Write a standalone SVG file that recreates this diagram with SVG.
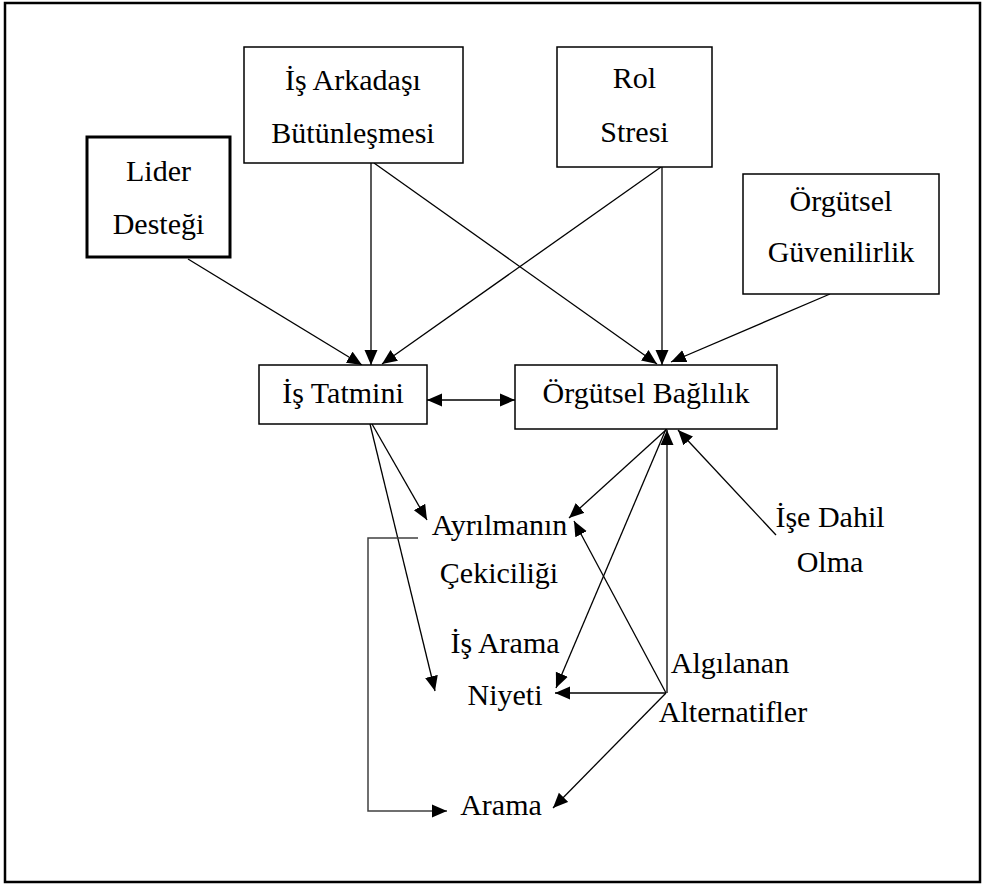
<svg xmlns="http://www.w3.org/2000/svg" width="982" height="885" viewBox="0 0 982 885">
<style>
text{font-family:"Liberation Serif","Times New Roman",serif;font-size:30px;fill:#000;text-anchor:middle}
.box{fill:#fff;stroke:#000;stroke-width:1.5}
.thick{stroke-width:3}
.c{fill:none;stroke:#000;stroke-width:1.3}
.g{fill:none;stroke:#404040;stroke-width:1.5}
</style>
<defs>
<marker id="ah" markerUnits="userSpaceOnUse" markerWidth="16" markerHeight="14" refX="15" refY="6.5" orient="auto-start-reverse" viewBox="0 0 16 13">
<path d="M0,0 L15,6.5 L0,13 z" fill="#000"/>
</marker>
</defs>
<rect x="5" y="3" width="975" height="879" fill="#fff" stroke="#000" stroke-width="2.5"/>

<g id="connectors">
<line class="c" x1="188" y1="259" x2="362" y2="365" marker-end="url(#ah)"/>
<line class="c" x1="371" y1="163" x2="371" y2="365" marker-end="url(#ah)"/>
<line class="c" x1="661" y1="167" x2="382" y2="364" marker-end="url(#ah)"/>
<line class="c" x1="374" y1="163" x2="657" y2="364" marker-end="url(#ah)"/>
<line class="c" x1="662" y1="167" x2="662" y2="365" marker-end="url(#ah)"/>
<line class="c" x1="830" y1="294" x2="671" y2="362" marker-end="url(#ah)"/>
<line class="c" x1="427" y1="400" x2="515" y2="400" marker-start="url(#ah)" marker-end="url(#ah)"/>
<line class="c" x1="372" y1="424" x2="427" y2="520" marker-end="url(#ah)"/>
<line class="c" x1="370" y1="424" x2="435" y2="691" marker-end="url(#ah)"/>
<line class="c" x1="667" y1="429" x2="569" y2="518" marker-end="url(#ah)"/>
<line class="c" x1="666" y1="429" x2="556" y2="688" marker-end="url(#ah)"/>
<line class="c" x1="667" y1="693" x2="667" y2="430" marker-end="url(#ah)"/>
<line class="c" x1="666" y1="693" x2="574" y2="521" marker-end="url(#ah)"/>
<line class="c" x1="776" y1="535" x2="678" y2="430" marker-end="url(#ah)"/>
<line class="c" x1="666" y1="693" x2="555" y2="693" marker-end="url(#ah)"/>
<line class="c" x1="666" y1="693" x2="553" y2="808" marker-end="url(#ah)"/>
<polyline class="g" points="418,538 368,538 368,811 447,811" marker-end="url(#ah)"/>
</g>

<g id="is-arkadasi">
<rect class="box" x="244" y="47" width="219" height="116"/>
<text x="353" y="90">İş Arkadaşı</text>
<text x="353" y="143">Bütünleşmesi</text>
</g>
<g id="rol-stresi">
<rect class="box" x="557" y="47" width="155" height="120"/>
<text x="634.5" y="88">Rol</text>
<text x="634.5" y="142">Stresi</text>
</g>
<g id="lider-destegi">
<rect class="box thick" x="87" y="137" width="143" height="120"/>
<text x="158.5" y="181">Lider</text>
<text x="158.5" y="234">Desteği</text>
</g>
<g id="orgutsel-guvenilirlik">
<rect class="box" x="743" y="174" width="196" height="120"/>
<text x="841" y="211">Örgütsel</text>
<text x="841" y="262">Güvenilirlik</text>
</g>
<g id="is-tatmini">
<rect class="box" x="259" y="365" width="168" height="59"/>
<text x="343" y="403">İş Tatmini</text>
</g>
<g id="orgutsel-baglilik">
<rect class="box" x="515" y="365" width="262" height="64"/>
<text x="646" y="403">Örgütsel Bağlılık</text>
</g>
<g id="ayrilmanin-cekiciligi">
<text x="499.5" y="535">Ayrılmanın</text>
<text x="499" y="583">Çekiciliği</text>
</g>
<g id="is-arama-niyeti">
<text x="505" y="653">İş Arama</text>
<text x="505" y="705">Niyeti</text>
</g>
<g id="arama">
<text x="501" y="815">Arama</text>
</g>
<g id="algilanan-alternatifler">
<text x="730" y="673">Algılanan</text>
<text x="733" y="722">Alternatifler</text>
</g>
<g id="ise-dahil-olma">
<text x="830" y="527">İşe Dahil</text>
<text x="830" y="572">Olma</text>
</g>
</svg>
